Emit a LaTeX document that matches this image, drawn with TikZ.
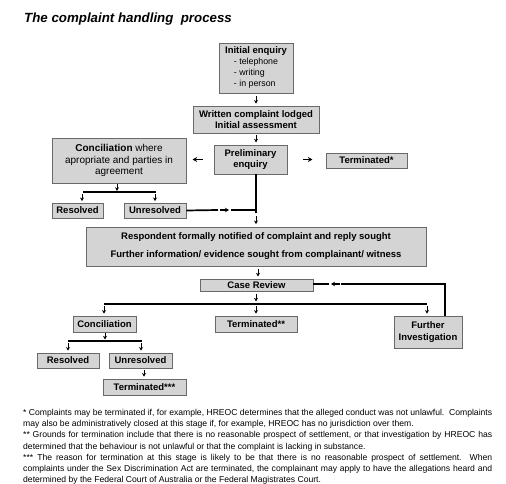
\documentclass[tikz,border=0pt]{standalone}
\usepackage{fontspec}
\setmainfont{Liberation Sans}
\usetikzlibrary{arrows.meta,calc}
\definecolor{boxfill}{RGB}{212,212,212}
\definecolor{boxline}{RGB}{105,105,105}
\newcommand{\jline}[1]{\leavevmode\hbox to \linewidth{#1}}
\begin{document}
\begin{tikzpicture}[x=1pt,y=-1pt,
  box/.style={draw=boxline, fill=boxfill, line width=0.8pt, inner sep=0pt, align=center,
    font=\bfseries\fontsize{9.5}{11.5}\selectfont},
  conn/.style={line width=1.7pt},
  arr/.style={-{Stealth[length=3.6pt,width=4pt]}, line width=0.9pt},
  barr/.style={-{Stealth[length=4.5pt,width=5pt]}, line width=1.4pt},
  marr/.style={-{Stealth[length=4pt,width=4.5pt]}, line width=1.2pt},
]
\useasboundingbox (0,0) rectangle (506,484);

\node[anchor=base west, inner sep=0pt, font=\bfseries\itshape\fontsize{13.3}{16}\selectfont] (title) at (24,23) {The complaint handling\ \ process};

% boxes
\node[box, minimum width=74pt, minimum height=50pt] (init) at (256,68)
  {\begin{tabular}{@{}c@{}}Initial enquiry\\[-1pt]
   {\mdseries\fontsize{8.8}{11.3}\selectfont\begin{tabular}{@{}l@{}}- telephone\\- writing\\- in person\end{tabular}}\end{tabular}};
\node[box, minimum width=126pt, minimum height=27pt] (written) at (256,119.5)
  {Written complaint lodged\\Initial assessment};
\node[box, minimum width=73pt, minimum height=29pt] (prelim) at (250.5,159.5)
  {Preliminary\\enquiry};
\node[box, minimum width=134pt, minimum height=45pt, font=\mdseries\fontsize{10}{11.6}\selectfont] (conc1) at (119,160.5)
  {\textbf{Conciliation} where\\apropriate and parties in\\agreement};
\node[box, minimum width=81pt, minimum height=15pt] (term1) at (366.5,160.5) {Terminated*};
\node[box, minimum width=51pt, minimum height=15pt] (res1) at (77.5,210.5) {Resolved};
\node[box, minimum width=62pt, minimum height=15pt] (unres1) at (155,210.5) {Unresolved};
\node[box, minimum width=340pt, minimum height=39pt] (resp) at (256,246.5)
  {Respondent formally notified of complaint and reply sought\\[6.5pt]
   Further information/ evidence sought from complainant/ witness};
\node[box, minimum width=113pt, minimum height=12pt] (case) at (256.5,285) {Case Review};
\node[box, minimum width=63pt, minimum height=16pt] (conc2) at (104.5,324) {Conciliation};
\node[box, minimum width=82pt, minimum height=16pt] (term2) at (256,324) {Terminated**};
\node[box, minimum width=68pt, minimum height=32pt] (further) at (428,332) {Further\\Investigation};
\node[box, minimum width=62pt, minimum height=15pt] (res2) at (68,360.5) {Resolved};
\node[box, minimum width=63pt, minimum height=15pt] (unres2) at (140.5,360.5) {Unresolved};
\node[box, minimum width=83pt, minimum height=16pt] (term3) at (144.5,387) {Terminated***};

% top chain
\draw[arr] ($(init.south)+(0,3)$) -- ($(written.north)+(0,-2)$);
\draw[arr] ($(written.south)+(0,2)$) -- ($(written.south)+(0,9)$);
\draw[barr] ($(prelim.west)+(-11,0)$) -- ($(prelim.west)+(-21,0)$);
\draw[barr] ($(prelim.east)+(16,0)$) -- ($(prelim.east)+(25,0)$);

% conciliation (first) split
\coordinate (b1L) at (83,192);
\coordinate (b1R) at (156,192);
\draw[arr] ($(conc1.south)+(-2,1)$) -- ($(conc1.south)+(-2,7.5)$);
\draw[conn] (b1L) -- (b1R);
\draw[arr] ($(b1L)+(-1,2)$) -- ($(res1.north)+(4.5,-1.5)$);
\draw[arr] ($(b1R)+(-1,2)$) -- ($(unres1.north)+(0,-1.5)$);

% unresolved -> main line
\coordinate (pv) at (256,174);
\coordinate (pj) at (256,210);
\coordinate (pe) at (256,213);
\draw[conn] (unres1.east) -- (218,210);
\draw[marr] (220,210) -- (229,210);
\draw[conn] (231,210) -- (pj);
\draw[conn] (pv) -- (pe);
\draw[arr] ($(pe)+(0,3)$) -- ($(resp.north)+(0,-2.5)$);

% respondent -> case review
\draw[arr] ($(resp.south)+(2,3)$) -- ($(resp.south)+(2,10)$);
\draw[arr] ($(case.south)+(-0.5,3)$) -- ($(case.south)+(-0.5,10)$);

% split after case review
\coordinate (b2L) at (104,304);
\coordinate (b2R) at (427,304);
\draw[conn] (b2L) -- (b2R);
\draw[arr] ($(b2L)+(0,2)$) -- ($(conc2.north)+(-0.5,-2)$);
\draw[arr] (256,306) -- ($(term2.north)+(0,-2)$);
\draw[arr] ($(b2R)+(0,2)$) -- ($(further.north)+(-1,-2)$);

% loop from further investigation back to case review
\coordinate (fl) at (445,316);
\coordinate (fc) at (445,284);
\draw[conn] (fl) -- (fc) -- (341,284);
\draw[marr] (340,284) -- (331,284);
\draw[conn] (329,284) -- (case.east |- 0,284);

% second conciliation split
\coordinate (b3L) at (68,341);
\coordinate (b3R) at (142,341);
\draw[arr] ($(conc2.south)+(0.5,1)$) -- ($(conc2.south)+(0.5,7)$);
\draw[conn] (b3L) -- (b3R);
\draw[arr] ($(b3L)+(0,2)$) -- ($(res2.north)+(0,-2)$);
\draw[arr] ($(b3R)+(-1,2)$) -- ($(unres2.north)+(0.5,-2)$);
\draw[arr] ($(unres2.south)+(3.5,2)$) -- ($(term3.north)+(-0.5,-2)$);

% footnotes
\node[anchor=north west, inner sep=0pt] (notes) at (23,409) {\parbox[t]{469pt}{\fontsize{8.6}{11.2}\selectfont
\jline{* Complaints may be terminated if, for example, HREOC determines that the alleged conduct was not unlawful.\ \ Complaints}\\
may also be administratively closed at this stage if, for example, HREOC has no jurisdiction over them.\\
\jline{** Grounds for termination include that there is no reasonable prospect of settlement, or that investigation by HREOC has}\\
determined that the behaviour is not unlawful or that the complaint is lacking in substance.\\
\jline{*** The reason for termination at this stage is likely to be that there is no reasonable prospect of settlement.\ \ When}\\
\jline{complaints under the Sex Discrimination Act are terminated, the complainant may apply to have the allegations heard and}\\
determined by the Federal Court of Australia or the Federal Magistrates Court.}};
\end{tikzpicture}
\end{document}
